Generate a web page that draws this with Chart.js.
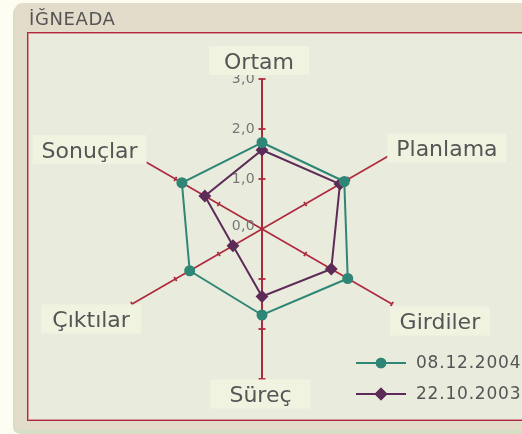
<!DOCTYPE html>
<html><head><meta charset="utf-8">
<script src="https://cdn.jsdelivr.net/npm/chart.js@4/dist/chart.umd.min.js"></script>
<style>html,body{margin:0;padding:0;background:#fdfdf2;overflow:hidden}#wrap{position:relative;width:522px;height:434px}</style>
</head><body><div id="wrap"><canvas id="c" width="522" height="434"></canvas></div>
<script>
const chartTitle = 'İĞNEADA';
const categories = ['Ortam', 'Planlama', 'Girdiler', 'Süreç', 'Çıktılar', 'Sonuçlar'];
const seriesNames = ['08.12.2004', '22.10.2003'];
const series2004 = [1.73, 1.90, 1.98, 1.72, 1.67, 1.85];
const series2003 = [1.58, 1.80, 1.60, 1.35, 0.67, 1.32];
const tickValues = [0, 1, 2, 3];
const tickLabels = ['0,0', '1,0', '2,0', '3,0'];

const FONT = '"DejaVu Sans", sans-serif';
const AXIS = '#ad2a3c';
const TEAL = '#2e8676';
const PURPLE = '#5d2b57';
const TEXT = '#555555';
// label center offsets (px) relative to the end of each axis
const labelOffsets = [[-3, -18.5], [55, -6], [48, 17], [-1.5, 15], [-41, 15], [-42.5, -4.5]];
const legendMarkerRadius = [5.3, 6.5];

function rr(ctx, x, y, w, h, r) {
  ctx.beginPath();
  ctx.moveTo(x + r, y); ctx.lineTo(x + w - r, y); ctx.quadraticCurveTo(x + w, y, x + w, y + r);
  ctx.lineTo(x + w, y + h - r); ctx.quadraticCurveTo(x + w, y + h, x + w - r, y + h);
  ctx.lineTo(x + r, y + h); ctx.quadraticCurveTo(x, y + h, x, y + h - r);
  ctx.lineTo(x, y + r); ctx.quadraticCurveTo(x, y, x + r, y); ctx.closePath();
}

const decor = {
  id: 'decor',
  beforeDraw(chart) {
    const ctx = chart.ctx;
    ctx.save();
    ctx.fillStyle = '#fdfdf2'; ctx.fillRect(0, 0, chart.width, chart.height);
    ctx.fillStyle = '#d8dec5'; rr(ctx, 13, 6, 560, 428, 8); ctx.fill();
    ctx.fillStyle = '#e4dccb'; rr(ctx, 15, 3, 560, 427, 8); ctx.fill();
    ctx.fillStyle = TEXT; ctx.font = '18px ' + FONT; ctx.textBaseline = 'alphabetic'; ctx.textAlign = 'left';
    ctx.letterSpacing = '0.6px';
    ctx.fillText(chartTitle, 29, 24.5);
    ctx.letterSpacing = '0px';
    ctx.fillStyle = '#e9ebdd'; ctx.fillRect(27, 32, 560, 389);
    ctx.lineWidth = 1;
    ctx.strokeStyle = '#d9959c'; ctx.strokeRect(28.5, 33.5, 560, 386);
    ctx.strokeStyle = '#b0283c'; ctx.strokeRect(27.5, 32.5, 560, 388);
    ctx.restore();
  },
  beforeDatasetsDraw(chart) {
    const ctx = chart.ctx, s = chart.scales.r;
    ctx.save();
    ctx.strokeStyle = AXIS; ctx.lineWidth = 1.8;
    for (let i = 0; i < categories.length; i++) {
      for (const v of tickValues) {
        if (v === 0) continue;
        const p = s.getPointPosition(i, s.getDistanceFromCenterForValue(v));
        const a = p.angle, half = (i % 3 === 0) ? 3.5 : 2.5;
        const px = -Math.sin(a) * half, py = Math.cos(a) * half;
        ctx.beginPath(); ctx.moveTo(p.x - px, p.y - py); ctx.lineTo(p.x + px, p.y + py); ctx.stroke();
      }
    }
    ctx.fillStyle = '#777777'; ctx.font = '14px ' + FONT; ctx.textAlign = 'right'; ctx.textBaseline = 'middle';
    ctx.letterSpacing = '0.3px';
    tickValues.forEach((v, k) => {
      const d = s.getDistanceFromCenterForValue(v);
      ctx.fillText(tickLabels[k], s.xCenter - 7, s.yCenter - d - (v === 0 ? 3 : 0));
    });
    ctx.letterSpacing = '0px';
    ctx.restore();
  },
  afterDraw(chart) {
    const ctx = chart.ctx, s = chart.scales.r;
    ctx.save();
    ctx.font = '22px ' + FONT; ctx.textAlign = 'center'; ctx.textBaseline = 'alphabetic';
    categories.forEach((lab, i) => {
      const p = s.getPointPosition(i, s.drawingArea);
      const cx = p.x + labelOffsets[i][0], cy = p.y + labelOffsets[i][1];
      const w = Math.max(ctx.measureText(lab).width + 18, 100);
      ctx.fillStyle = '#f1f3e1';
      ctx.fillRect(cx - w / 2, cy - 14.5, w, 29);
      ctx.fillStyle = TEXT;
      ctx.fillText(lab, cx, cy + 8);
    });
    // legend
    const ds = chart.data.datasets;
    const rows = [363, 394];
    ds.forEach((d, k) => {
      const y = rows[k];
      ctx.strokeStyle = d.borderColor; ctx.lineWidth = 2;
      ctx.beginPath(); ctx.moveTo(356, y); ctx.lineTo(406, y); ctx.stroke();
      ctx.fillStyle = d.borderColor;
      Chart.helpers.drawPoint(ctx, {pointStyle: d.pointStyle, radius: legendMarkerRadius[k], borderWidth: 0}, 381, y);
      ctx.fill();
      ctx.fillStyle = TEXT; ctx.font = '17px ' + FONT; ctx.textAlign = 'left'; ctx.textBaseline = 'middle';
      ctx.letterSpacing = '0.8px';
      ctx.fillText(d.label, 416, y + 1);
      ctx.letterSpacing = '0px';
    });
    ctx.restore();
  }
};

new Chart(document.getElementById('c'), {
  type: 'radar',
  data: {
    labels: categories,
    datasets: [
      {label: seriesNames[0], data: series2004, borderColor: TEAL, backgroundColor: TEAL, pointBackgroundColor: TEAL,
       pointBorderColor: TEAL, borderWidth: 2, pointStyle: 'circle', pointRadius: 4.5, fill: false},
      {label: seriesNames[1], data: series2003, borderColor: PURPLE, backgroundColor: PURPLE, pointBackgroundColor: PURPLE,
       pointBorderColor: PURPLE, borderWidth: 2, pointStyle: 'rectRot', pointRadius: 5, fill: false}
    ]
  },
  options: {
    responsive: false, animation: false, devicePixelRatio: 1,
    layout: {padding: {left: 112, right: 110, top: 79, bottom: 55}},
    plugins: {legend: {display: false}, title: {display: false}, tooltip: {enabled: false}},
    elements: {line: {tension: 0}},
    scales: {
      r: {
        min: 0, max: 3,
        ticks: {display: false, stepSize: 1},
        grid: {display: false},
        pointLabels: {display: false},
        angleLines: {display: true, color: AXIS, lineWidth: (c) => (c.index % 3 === 0 ? 2 : 1.6)}
      }
    }
  },
  plugins: [decor]
});
</script>
</body></html>
